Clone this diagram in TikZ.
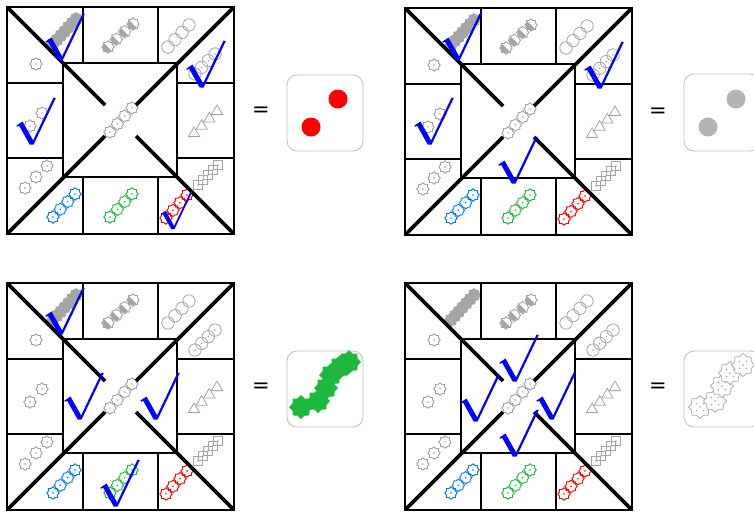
\documentclass[tikz,border=0pt]{standalone}
\usepackage{fontspec}
\newfontfamily\eqfont{DejaVu Sans}
\definecolor{sgray}{RGB}{165,165,165}
\definecolor{sblue}{RGB}{0,120,255}
\definecolor{sgreen}{RGB}{30,185,60}
\definecolor{sred}{RGB}{255,0,0}
\definecolor{ckblue}{RGB}{0,0,255}
\definecolor{cardgray}{RGB}{195,195,195}
\definecolor{dotgray}{RGB}{180,180,180}
\newcommand\gearpath[2]{(0:#1) \foreach \i in {0,...,7}{ -- ({\i*45+22.5}:#2) -- ({\i*45+45}:#1)} -- cycle}
\newcommand\gchain[7]{\foreach \k in {0,...,#1}{\pic[color=#7] at ({#2+\k*(#4-#2)/#1},{#3+\k*(#5-#3)/#1}) {#6};}}
\tikzset{
  gridthin/.style={line width=1.7pt, black},
  diagline/.style={line width=3.8pt, black},
  outerline/.style={line width=2.6pt, black},
  card/.style={draw=cardgray, line width=0.9pt, rounded corners=10pt},
  eqsign/.style={font=\eqfont\fontsize{21}{21}\selectfont, inner sep=0pt},
  gdot/.pic={\draw[line width=0.9pt] \gearpath{6.2}{5}; \fill (0,0) circle (0.9);},
  gfill/.pic={\fill \gearpath{7}{5.8};},
  ghalf/.pic={\fill (45:5.2) arc (45:225:5.2) -- cycle; \draw[line width=0.9pt] \gearpath{6.2}{5};},
  circ/.pic={\draw[line width=0.8pt] (0,0) circle (6.2);},
  circd/.pic={\draw[line width=0.8pt] (0,0) circle (6.2); \fill (0,0) circle (0.9);},
  tri/.pic={\draw[line width=0.8pt] (0,-6) -- (5.6,3.6) -- (-5.6,3.6) -- cycle;},
  sq/.pic={\draw[line width=0.8pt] (-4.2,-4.2) rectangle (4.2,4.2); \fill (0,0) circle (0.8);},
  bigstar/.pic={\path[pic actions] \gearpath{12}{9.2};},
  dotstar/.pic={\filldraw[fill=white, draw=sgray, line width=0.7pt] \gearpath{11.5}{9};
     \fill[sgray] (-3.5,-3.5) circle (0.9) (3.5,-3.5) circle (0.9) (0,0) circle (0.9) (-3.5,3.5) circle (0.9) (3.5,3.5) circle (0.9);},
  chk/.pic={\fill[ckblue] (-16.5,-17.5) -- (-10.5,-21.5) -- (0.12,-2.62) -- (20.5,-45.3) -- (22.8,-45)
     -- (0.6,1.5) -- (-3.3,1.5) -- (-13.9,-17.3) -- (-16,-16.2) -- cycle;},
}
\newcommand\boardcontent{
  \gchain{6}{46}{37}{69}{12}{gfill}{sgray}
  \pic[color=sgray] at (29,57) {gdot};
  \gchain{3}{101}{40}{126}{17}{ghalf}{sgray}
  \gchain{3}{161}{40}{182}{18}{circ}{sgray}
  \gchain{3}{188}{67}{208}{47}{circd}{sgray}
  \gchain{3}{187}{126}{210}{104}{tri}{sgray}
  \gchain{4}{191}{178}{211}{158}{sq}{sgray}
  \gchain{3}{159}{211}{180}{188}{gdot}{sred}
  \gchain{3}{103}{210}{125}{187}{gdot}{sgreen}
  \gchain{3}{46}{210}{68}{187}{gdot}{sblue}
  \gchain{2}{18}{181}{40}{159}{gdot}{sgray}
  \gchain{1}{23}{119}{35}{106}{gdot}{sgray}
  \gchain{3}{103}{125}{125}{101}{gdot}{sgray}
}
\newcommand\boardlines{
  \draw[gridthin] (56,56) rectangle (170,170);
  \draw[gridthin] (76,0)--(76,56) (151,0)--(151,56) (76,170)--(76,227) (151,170)--(151,227)
    (0,76)--(56,76) (0,151)--(56,151) (170,76)--(227,76) (170,151)--(227,151);
  \begin{scope}
    \clip (0,0) rectangle (227,227);
    \draw[diagline] (0,0)--(98,98) (227,0)--(129,98) (0,227)--(98,129) (227,227)--(129,129);
  \end{scope}
  \draw[outerline] (0,0) rectangle (227,227);
}
\begin{document}
\begin{tikzpicture}[x=1pt,y=-1pt]
\clip (0,0) rectangle (754,512);
\fill[white] (0,0) rectangle (754,512);
% boards
\begin{scope}[shift={(7,7)}]\boardcontent\boardlines\end{scope}
\begin{scope}[shift={(405,8)}]\boardcontent\boardlines\end{scope}
\begin{scope}[shift={(7,283)}]\boardcontent\boardlines\end{scope}
\begin{scope}[shift={(405,283)}]\boardcontent\boardlines\end{scope}
% check marks
\pic at (62,59) {chk};
\pic at (203,86) {chk};
\pic at (33,143) {chk};
\pic[scale=0.8] at (174,228) {chk};
\pic at (459,59) {chk};
\pic at (601,87) {chk};
\pic at (431,143) {chk};
\pic at (515,182) {chk};
\pic at (62,333) {chk};
\pic at (81,418) {chk};
\pic at (157,418) {chk};
\pic at (117,505) {chk};
\pic at (516,380) {chk};
\pic at (477,420) {chk};
\pic at (553,418) {chk};
\pic at (516,455) {chk};
% equals signs
\node[eqsign] (eq1) at (261,112) {=};
\node[eqsign] (eq2) at (658,113) {=};
\node[eqsign] (eq3) at (261,388) {=};
\node[eqsign] (eq4) at (658,388) {=};
% cards
\draw[card] (287,75) rectangle (363,151);
\fill[sred] (338,99) circle (9.5) (311,127) circle (9.5);
\draw[card] (684,74) rectangle (760,151);
\fill[dotgray] (736,99) circle (9.5) (708,127) circle (9.5);
\draw[card] (287,351) rectangle (363,427);
\foreach \p in {(301,407),(318,401),(326,388),(331,375),(340,367),(349,362)}
  \pic[fill=sgreen] at \p {bigstar};
\draw[card] (684,351) rectangle (760,427);
\foreach \p in {(700,407),(715,401),(722,386),(730,373),(743,365)}
  \pic at \p {dotstar};
\end{tikzpicture}
\end{document}
